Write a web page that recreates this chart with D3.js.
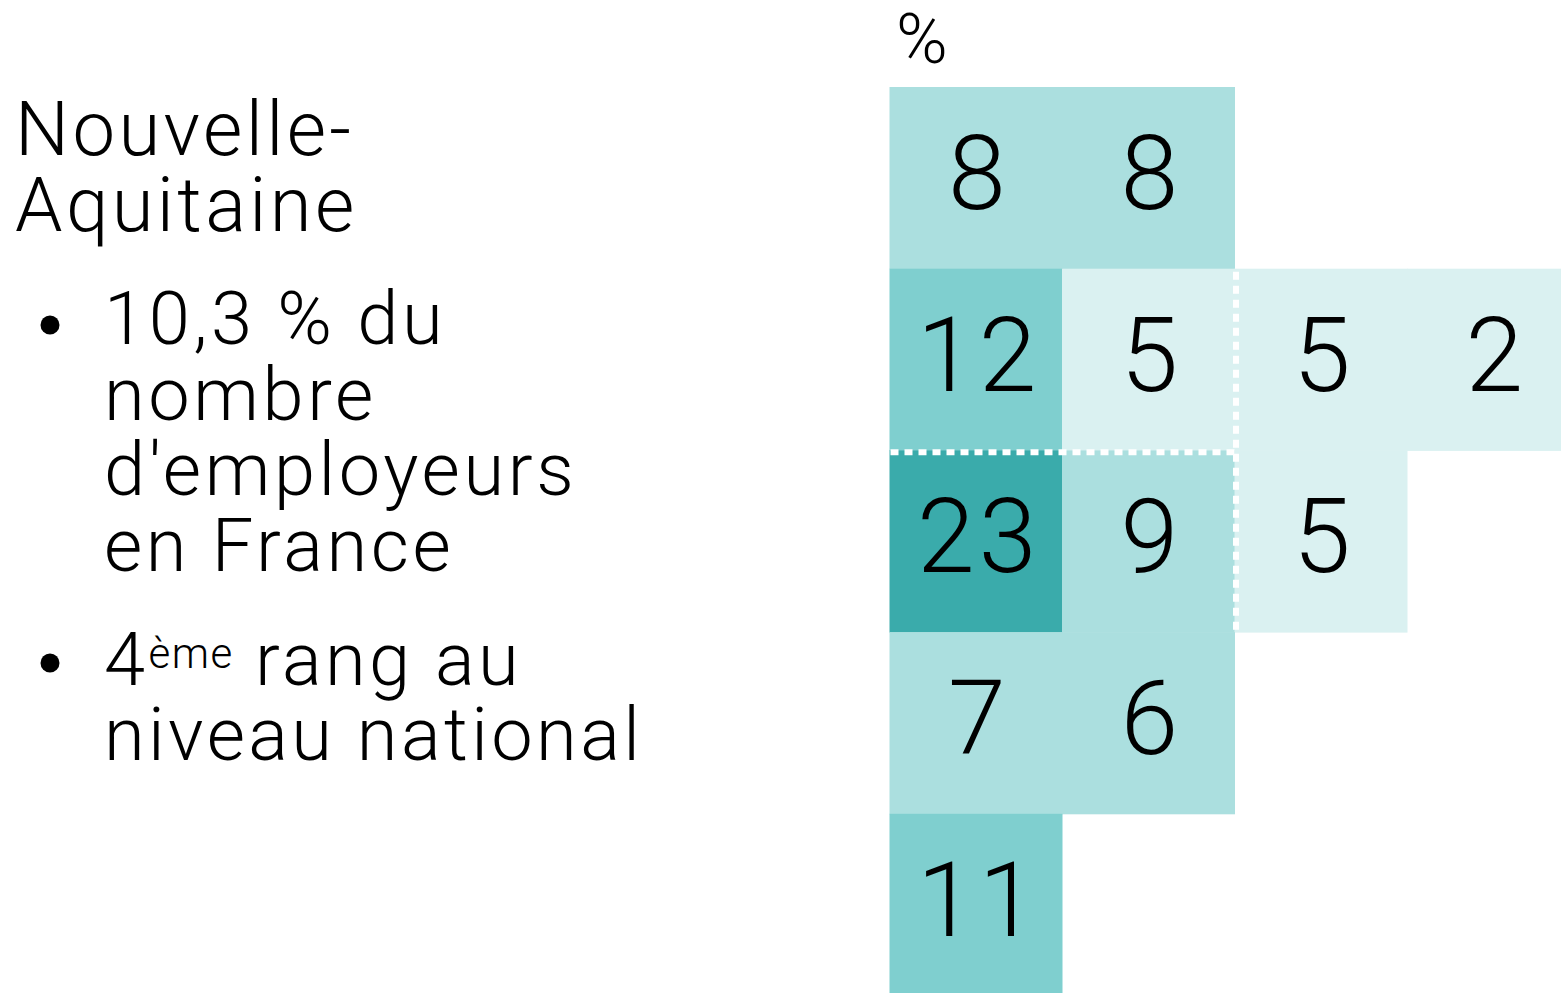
<!DOCTYPE html>
<html><head><meta charset="utf-8">
<script src="https://cdn.jsdelivr.net/npm/d3@7"></script>
<style>
html,body{margin:0;padding:0;background:#fff;}
svg{display:block;}
text{font-family:Roboto,"Noto Sans",sans-serif;font-weight:300;fill:#000;}
</style></head><body>
<svg id="chart" width="1561" height="993"></svg>
<script>
// Tile values (row, column, value %)
const tileRows = [0, 0, 1, 1, 1, 1, 2, 2, 2, 3, 3, 4];
const tileCols = [0, 1, 0, 1, 2, 3, 0, 1, 2, 0, 1, 0];
const tileValues = [8, 8, 12, 5, 5, 2, 23, 9, 5, 7, 6, 11];
const colorBreaks = [6, 11, 20];
const colorRange = ["#daf1f1", "#abdfdf", "#7fcfcf", "#3aabab"];
const unitLabel = "%";
const titleLines = ["Nouvelle-", "Aquitaine"];
const bullet1Lines = ["10,3 % du", "nombre", "d'employeurs", "en France"];
const bullet2Sup = ["4", "ème", " rang au"];
const bullet2Lines = ["niveau national"];

const svg = d3.select("#chart");
const x = d3.scaleBand().domain([0,1,2,3]).range([889.5, 1579.5]).padding(0);
const y = d3.scaleBand().domain([0,1,2,3,4]).range([87, 995.5]).padding(0);
const color = d3.scaleThreshold().domain(colorBreaks).range(colorRange);

const tiles = tileValues.map((v,i)=>({r:tileRows[i], c:tileCols[i], v}));

svg.append("g").selectAll("rect").data(tiles).join("rect")
  .attr("x", d=>x(d.c)).attr("y", d=>y(d.r))
  .attr("width", x.bandwidth()+0.5).attr("height", y.bandwidth()+0.5)
  .attr("fill", d=>color(d.v));

svg.append("g").selectAll("text").data(tiles).join("text")
  .attr("x", d=>x(d.c)+x.bandwidth()/2+3)
  .attr("y", d=>y(d.r)+y.bandwidth()/2+31)
  .attr("text-anchor","middle")
  .style("font-size","104px").style("letter-spacing","4px")
  .text(d=>d.v);

// dashed separators
const dash = svg.append("g").attr("stroke","#fff").attr("stroke-width",6).attr("stroke-dasharray","8,6");
dash.append("line").attr("x1", x(0)+1).attr("x2", x(2)).attr("y1", y(2)+1.8).attr("y2", y(2)+1.8);
dash.append("line").attr("x1", x(2)+1.5).attr("x2", x(2)+1.5).attr("y1", y(1)+3).attr("y2", y(3));

// unit label
svg.append("text").attr("x", 896).attr("y", 63).style("font-size","70px").text(unitLabel);

// left texts
svg.append("g").selectAll("text").data(titleLines).join("text")
  .attr("x", 15).attr("y", (d,i)=>155+i*76).style("font-size","76px").style("letter-spacing","3.4px").text(d=>d);

svg.append("circle").attr("cx", 50).attr("cy", 325).attr("r", 9.5).attr("fill","#000");
svg.append("g").selectAll("text").data(bullet1Lines).join("text")
  .attr("x", 104).attr("y", (d,i)=>344+i*75.5).style("font-size","74px").style("letter-spacing","3.6px").text(d=>d);

svg.append("circle").attr("cx", 50).attr("cy", 663).attr("r", 9.5).attr("fill","#000");
const t2 = svg.append("text").attr("x", 104).attr("y", 685).style("font-size","74px").style("letter-spacing","3.4px");
t2.append("tspan").text(bullet2Sup[0]);
t2.append("tspan").attr("dy",-17).style("font-size","42px").style("letter-spacing","1.5px").text(bullet2Sup[1]);
t2.append("tspan").attr("dy",17).text(bullet2Sup[2]);
svg.append("g").selectAll("text.l2").data(bullet2Lines).join("text")
  .attr("x", 104).attr("y", (d,i)=>760+i*75.5).style("font-size","74px").style("letter-spacing","3.4px").text(d=>d);
</script>
</body></html>
